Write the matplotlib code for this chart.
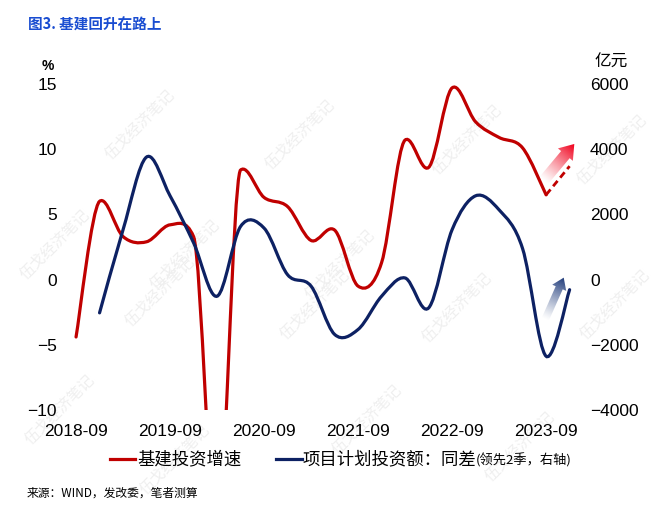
import numpy as np
import matplotlib
matplotlib.use("Agg")
import matplotlib.pyplot as plt
from matplotlib.path import Path
from matplotlib.patches import PathPatch, FancyArrowPatch
from matplotlib.lines import Line2D

plt.rcParams['font.family'] = ['Liberation Sans', 'Noto Sans CJK SC']

# quarterly data, 2018Q3 .. 2023Q3 (index 0..20)
tick_labels = ["2018-09", "2019-09", "2020-09", "2021-09", "2022-09", "2023-09"]
infra_growth = [-4.4, 6.0, 3.3, 2.9, 4.2, 3.3, -19.7, 8.4, 6.3, 5.6, 3.0, 3.8,
                -0.5, 1.3, 10.7, 8.6, 14.7, 12.1, 10.9, 10.1, 6.5]
infra_forecast = 8.7  # 2023Q4, dashed
# project planned investment, yoy difference (lead 2 quarters), 2018Q4 .. 2023Q4
plan_diff = [-1020, 1530, 3760, 2570, 1130, -510, 1630, 1580, 150, -200, -1680,
             -1530, -510, 50, -870, 1530, 2570, 2140, 950, -2350, -310]

RED = "#c00000"
NAVY = "#0d2163"
W, H = 660, 509


def px(x, y):
    return x / W, 1 - y / H


def smooth_path(xs, ys, m):
    # smoothed line (catmull-rom), tangents limited so overshoot stays within m
    xs = np.asarray(xs, float)
    ys = np.asarray(ys, float)
    n = len(xs)
    tx = np.zeros(n)
    ty = np.zeros(n)
    for i in range(n):
        a, b = max(i - 1, 0), min(i + 1, n - 1)
        tx[i] = (xs[b] - xs[a]) / 6
        t = (ys[b] - ys[a]) / 6
        if t != 0:
            lims = []
            # forward control point
            if b != i:
                hi = max(ys[i], ys[b]) + m - ys[i]
                lo = ys[i] - (min(ys[i], ys[b]) - m)
                lims.append(hi if t > 0 else lo)
            if a != i:
                hi = max(ys[i], ys[a]) + m - ys[i]
                lo = ys[i] - (min(ys[i], ys[a]) - m)
                lims.append(lo if t > 0 else hi)
            t = np.sign(t) * min(abs(t), *lims)
        ty[i] = t
    verts, codes = [(xs[0], ys[0])], [Path.MOVETO]
    for i in range(n - 1):
        verts += [(xs[i] + tx[i], ys[i] + ty[i]),
                  (xs[i + 1] - tx[i + 1], ys[i + 1] - ty[i + 1]),
                  (xs[i + 1], ys[i + 1])]
        codes += [Path.CURVE4] * 3
    return Path(verts, codes)


def grad_arrow(ax, p0, p1, color, tail, head_w, head_l, sx, sy):
    arrow = FancyArrowPatch(p0, p1, arrowstyle=f"simple,head_length={head_l},head_width={head_w},tail_width={tail}",
                            mutation_scale=1, shrinkA=0, shrinkB=0, facecolor="none",
                            edgecolor="none", transform=ax.transData)
    ax.add_patch(arrow)
    x0, x1 = min(p0[0], p1[0]) - 1.5, max(p0[0], p1[0]) + 1.5
    y0, y1 = min(p0[1], p1[1]) - 3, max(p0[1], p1[1]) + 3
    n = 120
    gx, gy = np.meshgrid(np.linspace(x0, x1, n), np.linspace(y0, y1, n))
    dx, dy = (p1[0] - p0[0]) * sx, (p1[1] - p0[1]) * sy
    t = ((gx - p0[0]) * sx * dx + (gy - p0[1]) * sy * dy) / (dx * dx + dy * dy)
    rgba = np.zeros((n, n, 4))
    rgba[..., :3] = matplotlib.colors.to_rgb(color)
    rgba[..., 3] = np.clip(t, 0, 1) ** 1.2
    im = ax.imshow(rgba, extent=(x0, x1, y0, y1), origin="lower", aspect="auto",
                   interpolation="bilinear", zorder=4)
    im.set_clip_path(arrow)


fig = plt.figure(figsize=(6.6, 5.09), dpi=100)
fig.patch.set_facecolor("white")
ax = fig.add_axes([65 / W, 1 - 410 / H, (583 - 65) / W, (410 - 84) / H])
ax2 = ax.twinx()

xr = np.arange(len(infra_growth))
xb = np.arange(1, len(plan_diff) + 1)

ax.add_patch(PathPatch(smooth_path(xr, infra_growth, 0.5), facecolor="none", edgecolor=RED,
                       lw=2.3, capstyle="round", zorder=3))
ax.plot([xr[-1], xr[-1] + 1], [infra_growth[-1], infra_forecast], color=RED, lw=2.0,
        ls=(0, (2.5, 1.5)), zorder=3)
ax2.add_patch(PathPatch(smooth_path(xb, plan_diff, 350), facecolor="none", edgecolor=NAVY,
                        lw=2.3, capstyle="round", zorder=3))

XL = (-0.47, 21.57)
sx, sy = 23.5, 13.05
grad_arrow(ax, (19.9, 7.6), (21.2, 10.4), "#f0001c", 8, 14, 10, sx, sy)
grad_arrow(ax, (19.95, -3.1), (20.75, 0.15), "#1e3a7a", 5.5, 11, 8, sx, sy)

ax.set_xlim(*XL)
ax.set_ylim(-10, 15)
ax2.set_ylim(-4000, 6000)
ax.set_xticks(np.arange(0, 21, 4))
ax.set_xticklabels(tick_labels)
ax.set_yticks(np.arange(-10, 16, 5))
ax2.set_yticks(np.arange(-4000, 6001, 2000))
for a in (ax, ax2):
    for s in a.spines.values():
        s.set_visible(False)
    a.tick_params(length=0, labelsize=12.5, colors="black")
ax.tick_params(axis="x", pad=10)
ax.tick_params(axis="y", pad=6)
ax2.tick_params(axis="y", pad=5)
ax.patch.set_visible(False)
ax2.patch.set_visible(False)

# watermark
wm = [(140, 125), (300, 135), (467, 140), (612, 150), (55, 245), (185, 255), (340, 265),
      (160, 292), (315, 305), (457, 308), (615, 305), (60, 410), (175, 460), (367, 420), (520, 447)]
for (x, y) in wm:
    fig.text(*px(x, y), "伍戈经济笔记", rotation=45, ha="center", va="center", fontsize=11,
             color="#efefef", family="Noto Sans CJK SC", zorder=-1)

fig.text(*px(28, 25), "图3. 基建回升在路上", color="#1a4dd1", fontsize=10.5, fontweight="bold",
         family="Noto Sans CJK SC", va="center")
fig.text(*px(48, 66), "%", fontsize=10, fontweight="bold", ha="center", va="center")
fig.text(*px(611, 62), "亿元", fontsize=12, ha="center", va="center", family="Noto Sans CJK SC")

# legend
fig.add_artist(Line2D([110 / W, 135 / W], [1 - 459 / H] * 2, color=RED, lw=2.3))
fig.text(*px(137, 459), "基建投资增速", fontsize=12.5, va="center", family="Noto Sans CJK SC")
fig.add_artist(Line2D([276 / W, 302 / W], [1 - 459 / H] * 2, color=NAVY, lw=2.3))
fig.text(*px(303, 459), "项目计划投资额：同差", fontsize=12.5, va="center", family="Noto Sans CJK SC")
fig.text(*px(476, 460), "(领先2季，右轴)", fontsize=9.5, va="center", family="Noto Sans CJK SC")

fig.text(*px(27, 493), "来源：WIND，发改委，笔者测算", fontsize=8.5, va="center", family="Noto Sans CJK SC")

fig.savefig("out.png", dpi=100)
